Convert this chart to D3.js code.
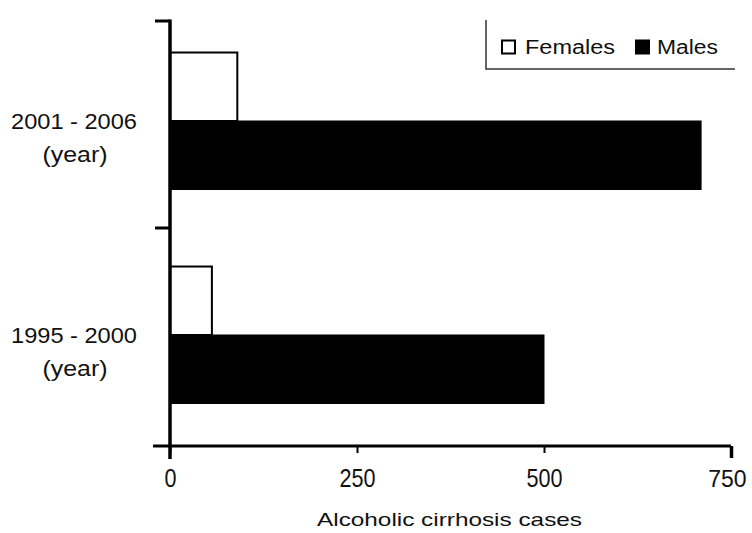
<!DOCTYPE html>
<html>
<head>
<meta charset="utf-8">
<script src="https://cdn.jsdelivr.net/npm/d3@7"></script>
<style>
  html, body { margin: 0; padding: 0; background: #fff; }
  svg { display: block; font-family: "Liberation Sans", Arial, Helvetica, sans-serif; }
</style>
</head>
<body>
<svg id="chart" width="752" height="533"></svg>
<script>
// Alcoholic cirrhosis cases by period and sex
const periods = ["2001 - 2006", "1995 - 2000"];
const series = ["Females", "Males"];
const females = [90, 56];
const males = [710, 500];
const xTicks = [0, 250, 500, 750];
const xTitle = "Alcoholic cirrhosis cases";
const periodUnit = "(year)";

const rows = periods.map((p, i) => ({ period: p, Females: females[i], Males: males[i] }));

const svg = d3.select("#chart");
const plotLeft = 170, plotRight = 731, plotTop = 21, plotBottom = 446;

const x = d3.scaleLinear().domain([0, 750]).range([plotLeft, plotRight]);
const y = d3.scaleBand().domain(periods).range([14, 442]);
const ySub = d3.scaleBand().domain(series)
  .range([y.bandwidth() * 0.18, y.bandwidth() * 0.82]);
const fill = d3.scaleOrdinal().domain(series).range(["#fff", "#000"]);

// bars
const groups = svg.append("g").selectAll("g").data(rows).join("g")
  .attr("transform", d => `translate(0,${y(d.period)})`);
groups.selectAll("rect")
  .data(d => series.map(s => ({ key: s, value: d[s] })))
  .join("rect")
  .attr("x", x(0))
  .attr("y", d => ySub(d.key))
  .attr("width", d => x(d.value) - x(0))
  .attr("height", ySub.bandwidth())
  .attr("fill", d => fill(d.key))
  .attr("stroke", "#000")
  .attr("stroke-width", d => d.key === "Females" ? 2 : 1);

// x axis
const last = xTicks.length - 1;
const xAxis = svg.append("g")
  .attr("transform", `translate(0,${plotBottom})`)
  .call(d3.axisBottom(x).tickValues(xTicks).tickSize(7).tickSizeOuter(0));
xAxis.select(".domain").remove();
xAxis.append("line")
  .attr("x1", 153).attr("x2", plotRight)
  .attr("stroke", "#000").attr("stroke-width", 3);
xAxis.selectAll(".tick line")
  .attr("stroke", "#000")
  .attr("stroke-width", (d, i) => (i === last ? 3.5 : 2))
  .attr("y2", (d, i) => (i === last ? 12 : 7));
xAxis.selectAll(".tick text")
  .attr("dy", null).attr("y", 41)
  .attr("fill", "#111")
  .style("font-family", "'Liberation Sans', Arial, sans-serif");
xAxis.selectAll(".tick text").filter((d, i) => i !== last)
  .attr("textLength", d => String(d).length * 12)
  .attr("lengthAdjust", "spacingAndGlyphs")
  .style("font-size", "26px");
// keep the rightmost label inside the frame
xAxis.selectAll(".tick text").filter((d, i) => i === last)
  .attr("text-anchor", "end").attr("x", 15)
  .style("font-size", "23px");

svg.append("text")
  .attr("x", (plotLeft + plotRight) / 2 - 1).attr("y", 526)
  .attr("text-anchor", "middle")
  .attr("textLength", 265).attr("lengthAdjust", "spacingAndGlyphs")
  .style("font-size", "18.5px").attr("fill", "#111")
  .text(xTitle);

// y axis
const yAxis = svg.append("g");
yAxis.append("line")
  .attr("x1", plotLeft).attr("x2", plotLeft)
  .attr("y1", plotTop - 1.5).attr("y2", 459)
  .attr("stroke", "#000").attr("stroke-width", 3.5);
const yTickPos = [plotTop, y(periods[1])];
yAxis.selectAll("line.tick").data(yTickPos).join("line")
  .attr("class", "tick")
  .attr("x1", 155).attr("x2", plotLeft)
  .attr("y1", d => d).attr("y2", d => d)
  .attr("stroke", "#000").attr("stroke-width", 3);

const yLabels = yAxis.selectAll("g.lab").data(periods).join("g")
  .attr("class", "lab")
  .attr("transform", d => `translate(74,${y(d) + y.bandwidth() / 2})`);
yLabels.append("text")
  .attr("y", 8).attr("text-anchor", "middle")
  .attr("textLength", 126).attr("lengthAdjust", "spacingAndGlyphs")
  .style("font-size", "22px").attr("fill", "#111")
  .text(d => d);
yLabels.append("text")
  .attr("x", 1).attr("y", 41).attr("text-anchor", "middle")
  .attr("textLength", 65).attr("lengthAdjust", "spacingAndGlyphs")
  .style("font-size", "22px").attr("fill", "#111")
  .text(periodUnit);

// legend
const legend = svg.append("g");
legend.append("path")
  .attr("d", "M486,20V69H735")
  .attr("fill", "none").attr("stroke", "#333").attr("stroke-width", 1.5);
const legendItems = [
  { key: "Females", sx: 502, tx: 525, tw: 90 },
  { key: "Males", sx: 636, tx: 657, tw: 61 }
];
const li = legend.selectAll("g.item").data(legendItems).join("g").attr("class", "item");
li.append("rect")
  .attr("x", d => d.sx).attr("y", 40.5)
  .attr("width", 13).attr("height", 13)
  .attr("fill", d => fill(d.key))
  .attr("stroke", "#000").attr("stroke-width", 2);
li.append("text")
  .attr("x", d => d.tx).attr("y", 54)
  .attr("textLength", d => d.tw).attr("lengthAdjust", "spacingAndGlyphs")
  .style("font-size", "20px").attr("fill", "#111")
  .text(d => d.key);
</script>
</body>
</html>
